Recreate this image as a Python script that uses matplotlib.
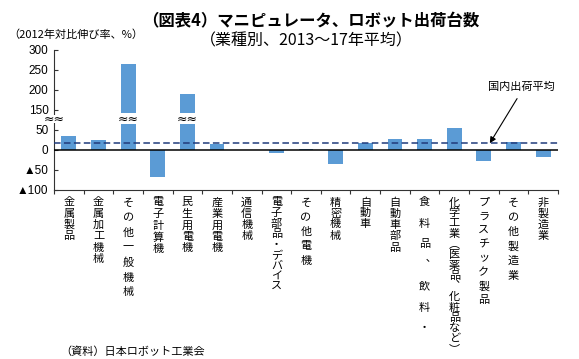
import matplotlib
matplotlib.use('Agg')
import matplotlib.pyplot as plt
from matplotlib.patches import Rectangle

plt.rcParams['font.family'] = ['Noto Sans CJK JP', 'DejaVu Sans']

# ---------------- data ----------------
categories = ['金属製品', '金属加工機械', 'その他一般機械', '電子計算機', '民生用電機',
              '産業用電機', '通信機械', '電子部品・デバイス', 'その他電機', '精密機械',
              '自動車', '自動車部品', '食料品︑飲料・', '化学工業︵医薬品︑化粧品など︶',
              'プラスチック製品', 'その他製造業', '非製造業']
growth = [34, 26, 266, -68, 189, 14, 0, -7, 3, -35, 17, 27, 27, 54, -27, 21, -17]
domestic_avg = 17
ytick_values = [-100, -50, 0, 50, 150, 200, 250, 300]
ytick_labels = ['▲100', '▲50', '0', '50', '150', '200', '250', '300']

# ---------------- style ----------------
W, H, DPI = 579, 359, 100
BAR_COLOR = '#5B9BD5'
AVG_COLOR = '#1F3A7A'
BREAK_AT = 100      # values above this are drawn with a broken axis
SHIFT = 50          # amount removed from the scale above the break
GAP = (66, 92)      # display range of the white break gap
label_pitch_px = [11.2, 11.3, 15, 11.6, 11.5, 11.5, 11.2, 10.6, 14.6, 11.0,
                  10.8, 11.3, 21, 10.5, 14, 14.6, 11.0]


def disp(v):
    return v - SHIFT if v > BREAK_AT else v


fig = plt.figure(figsize=(W / DPI, H / DPI), dpi=DPI)
ax = fig.add_axes([54 / W, 1 - 190 / H, (558 - 54) / W, (190 - 50) / H])

x = list(range(len(categories)))
ax.bar(x, [disp(v) for v in growth], width=0.5, color=BAR_COLOR, zorder=2)

# axis break on tall bars
for i, v in enumerate(growth):
    if v > BREAK_AT:
        ax.add_patch(Rectangle((i - 0.3, GAP[0]), 0.6, GAP[1] - GAP[0],
                               facecolor='white', edgecolor='none', zorder=3))
        ax.text(i, (GAP[0] + GAP[1]) / 2 - 3, '≈≈', ha='center', va='center',
                fontsize=9, family='DejaVu Sans', zorder=4)

# zero line and average line
ax.axhline(0, color='black', lw=1.1, zorder=3)
ax.plot([-0.5, len(categories) - 0.5], [domestic_avg, domestic_avg],
        color=AVG_COLOR, lw=1.1, dashes=(4.3, 2.2), zorder=4)

ax.set_xlim(-0.5, len(categories) - 0.5)
ax.set_ylim(disp(ytick_values[0]), disp(ytick_values[-1]))
ax.set_yticks([disp(v) for v in ytick_values])
ax.set_yticklabels(ytick_labels, family=['Liberation Sans', 'Noto Sans CJK JP'], fontsize=8.5)
ax.set_xticks([i - 0.5 for i in range(len(categories) + 1)])
ax.set_xticklabels([])
ax.tick_params(axis='x', direction='out', length=3, width=0.8, color='#333333')
ax.tick_params(axis='y', direction='in', length=3, width=0.8, color='#333333', pad=4)
for s in ['top', 'right']:
    ax.spines[s].set_visible(False)
for s in ['left', 'bottom']:
    ax.spines[s].set_color('#333333')
    ax.spines[s].set_linewidth(0.8)

# break mark on the y axis
ax.add_patch(Rectangle((-0.9, GAP[0] + 2), 0.8, GAP[1] - GAP[0] - 6,
                       facecolor='white', edgecolor='none', zorder=5,
                       clip_on=False, transform=ax.transData))
ax.text(-0.5, (GAP[0] + GAP[1]) / 2 - 3, '≈≈', ha='center', va='center',
        fontsize=9, family='DejaVu Sans', zorder=6, clip_on=False)

# vertical category labels
for i, (lab, p) in enumerate(zip(categories, label_pitch_px)):
    for k, ch in enumerate(lab):
        ax.annotate(ch, xy=(i, 0), xycoords=('data', 'axes fraction'),
                    xytext=(0, -(12.5 + k * p) * 72 / DPI), textcoords='offset points',
                    ha='center', va='center', fontsize=8)

# annotation
ax.annotate('国内出荷平均', xy=(14.2, domestic_avg), xytext=(15.25, 157),
            ha='center', va='center', fontsize=8,
            arrowprops=dict(arrowstyle='-|>', color='black', lw=0.8,
                            mutation_scale=9, shrinkA=3, shrinkB=0,
                            relpos=(0.5, 0)))

# titles and notes
fig.text(311 / W, 1 - 21 / H, '（図表4）マニピュレータ、ロボット出荷台数',
         ha='center', va='center', fontsize=11.8, fontweight='bold')
fig.text(306 / W, 1 - 41 / H, '（業種別、2013～17年平均）',
         ha='center', va='center', fontsize=11.5)
fig.text(8 / W, 1 - 35 / H, '（2012年対比伸び率、%）',
         ha='left', va='center', fontsize=8)
fig.text(60 / W, 1 - 352 / H, '（資料）日本ロボット工業会',
         ha='left', va='center', fontsize=8)

fig.savefig('out.png', dpi=DPI)
